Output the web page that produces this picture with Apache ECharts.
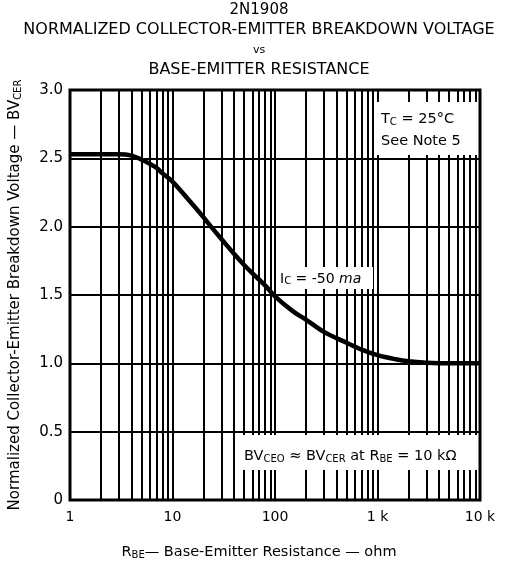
<!DOCTYPE html>
<html><head><meta charset="utf-8">
<script src="https://cdn.jsdelivr.net/npm/echarts@6/dist/echarts.min.js"></script>
<style>html,body{margin:0;padding:0;background:#fff}#c{width:518px;height:574px}</style>
</head><body><div id="c"></div>
<script>
// Data
const rbe = [1, 2, 3, 4, 5, 6, 7, 8, 10, 15, 20, 25, 30, 40, 50, 60, 80, 100, 150, 200, 300, 500, 700, 1000, 1500, 2000, 3000, 5000, 10000];
const bvNorm = [2.53, 2.53, 2.53, 2.52, 2.49, 2.46, 2.43, 2.39, 2.33, 2.18, 2.07, 1.98, 1.91, 1.80, 1.72, 1.66, 1.57, 1.49, 1.38, 1.32, 1.23, 1.15, 1.10, 1.06, 1.03, 1.015, 1.005, 1.0, 1.0];
const xGridValues = [2,3,4,5,6,7,8,9,10,20,30,40,50,60,70,80,90,100,200,300,400,500,600,700,800,900,1000,2000,3000,4000,5000,6000,7000,8000,9000];
const xTickLabels = {1:'1', 10:'10', 100:'100', 1000:'1 k', 10000:'10 k'};
const yTicks = [0, 0.5, 1.0, 1.5, 2.0, 2.5, 3.0];

const FONT = '"DejaVu Sans", sans-serif';
const chart = echarts.init(document.getElementById('c'), null, {renderer: 'canvas'});
const sub = {fontSize: 10, fontFamily: FONT, verticalAlign: 'bottom', lineHeight: 20, fill: '#000', color: '#000'};
const nrm = (fs, lh) => ({fontSize: fs, fontFamily: FONT, fill: '#000', color: '#000', lineHeight: lh, verticalAlign: 'bottom'});

chart.setOption({
  animation: false,
  backgroundColor: '#fff',
  grid: {left: 69, right: 38, top: 90, bottom: 74, show: true, borderColor: '#000', borderWidth: 3, backgroundColor: 'transparent'},
  xAxis: {
    type: 'log', logBase: 10, min: 1, max: 10000,
    axisLine: {show: false}, axisTick: {show: false},
    splitLine: {show: false},
    axisLabel: {color: '#000', fontSize: 14, fontFamily: FONT, margin: 10,
      formatter: v => xTickLabels[Math.round(v)] || ''}
  },
  yAxis: {
    type: 'value', min: 0, max: 3, interval: 0.5,
    axisLine: {show: false}, axisTick: {show: false},
    splitLine: {show: true, lineStyle: {color: '#000', width: 2}},
    axisLabel: {color: '#000', fontSize: 15, fontFamily: FONT, margin: 7,
      formatter: v => v === 0 ? '0' : v.toFixed(1)},
    name: '{n|Normalized Collector-Emitter Breakdown Voltage — BV}{s|CER}',
    nameLocation: 'middle', nameRotate: 90, nameGap: 47,
    nameTextStyle: {rich: {n: nrm(15, 20), s: sub}}
  },
  series: [
    {
      type: 'line', data: [], silent: true,
      markLine: {symbol: 'none', silent: true, label: {show: false},
        lineStyle: {color: '#000', width: 2, type: 'solid'},
        data: xGridValues.map(v => ({xAxis: v}))},
      z: 1
    },
    {
      type: 'line', data: rbe.map((x, i) => [x, bvNorm[i]]), showSymbol: false,
      smooth: 0.35, lineStyle: {color: '#000', width: 4.5}, z: 5, silent: true
    }
  ],
  graphic: [
    {type: 'text', left: 'center', top: 3, style: {text: '2N1908', font: '15px ' + FONT, fill: '#000'}},
    {type: 'text', left: 'center', top: 22, style: {text: 'NORMALIZED COLLECTOR-EMITTER BREAKDOWN VOLTAGE', font: '16px ' + FONT, fill: '#000'}},
    {type: 'text', left: 'center', top: 45, style: {text: 'vs', font: '11px ' + FONT, fill: '#000'}},
    {type: 'text', left: 'center', top: 62, style: {text: 'BASE-EMITTER RESISTANCE', font: '16px ' + FONT, fill: '#000'}},
    // annotation boxes
    {type: 'rect', shape: {x: 376, y: 102, width: 102, height: 53}, style: {fill: '#fff'}, z: 50},
    {type: 'text', x: 381, y: 105, z: 51, style: {text: '{n|T}{s|C}{n| = 25°C}\n{n|See Note 5}',
      rich: {n: nrm(14.5, 22), s: sub}}},
    {type: 'rect', shape: {x: 278, y: 267, width: 95, height: 22}, style: {fill: '#fff'}, z: 50},
    {type: 'text', x: 280, y: 266, z: 51, style: {text: '{n|I}{s|C}{n| = -50 }{i|ma}',
      rich: {n: nrm(14, 20), i: Object.assign(nrm(14, 20), {fontStyle: 'italic'}), s: sub}}},
    {type: 'rect', shape: {x: 237, y: 435, width: 240, height: 35}, style: {fill: '#fff'}, z: 50},
    {type: 'text', x: 244, y: 444, z: 51, style: {text: '{n|BV}{s|CEO}{n| ≈ BV}{s|CER}{n| at R}{s|BE}{n| = 10 kΩ}',
      rich: {n: nrm(14.5, 20), s: sub}}},
    // x axis name
    {type: 'text', left: 'center', top: 545, style: {text: '{n|R}{s|BE}{n|— Base-Emitter Resistance — ohm}',
      rich: {n: nrm(14.5, 20), s: sub}}}
  ]
});
</script></body></html>
